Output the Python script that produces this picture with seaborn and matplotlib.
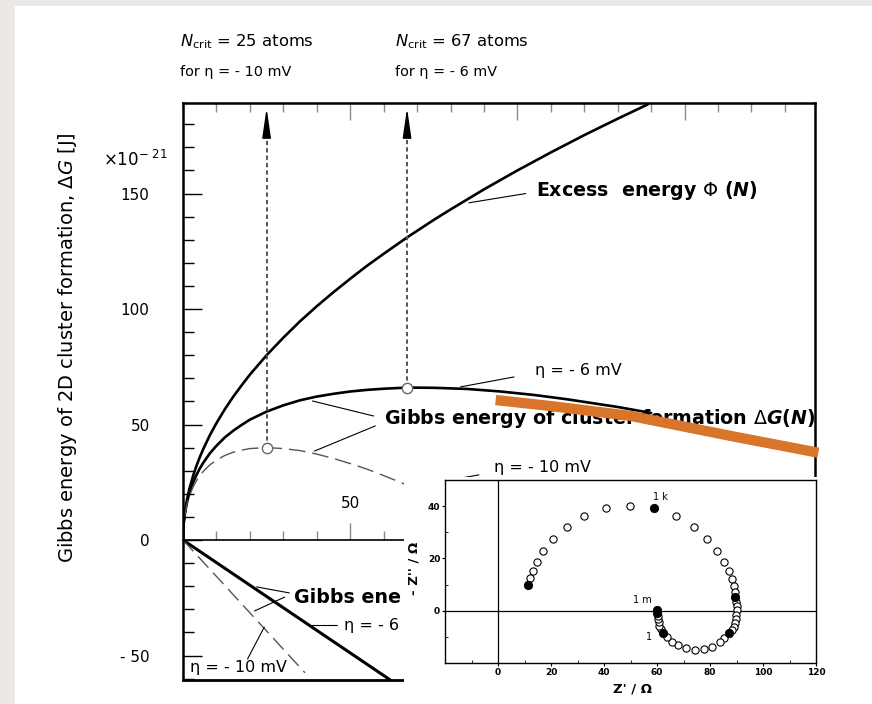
import matplotlib
matplotlib.use("Agg")
import matplotlib.pyplot as plt
from matplotlib.ticker import MultipleLocator, FixedLocator
from matplotlib.patches import Rectangle
from matplotlib.transforms import Bbox, TransformedBbox
import seaborn as sns

sns.set_style("white")
plt.rcParams["font.family"] = ["DejaVu Sans"]
plt.rcParams["mathtext.fontset"] = "dejavusans"
plt.rcParams["text.color"] = "black"
plt.rcParams["axes.labelcolor"] = "black"
plt.rcParams["xtick.color"] = "black"
plt.rcParams["ytick.color"] = "black"

# ---- Gibbs energy of 2D cluster formation (units of 1e-21 J) ----
# excess energy Phi(N)
n_phi = [0, 0.1, 0.25, 0.5, 1, 1.5, 2, 3, 4, 5, 6, 8, 10, 12.5, 15, 17.5, 20, 25, 30, 35,
         40, 45, 50, 55, 60, 67, 75, 80, 90, 100, 110, 120, 130, 139]
phi = [0, 5.1, 8, 11.3, 16, 19.6, 22.6, 27.7, 32, 35.8, 39.2, 45.3, 50.6, 56.6, 62, 66.9, 71.6,
       80, 87.6, 94.7, 101.2, 107.3, 113.1, 118.7, 123.9, 131, 138.6, 143.1, 151.8, 160,
       167.8, 175.3, 182.4, 188.6]

# Delta G(N) for eta = -6 mV
n_dg6 = [0, 0.1, 0.25, 0.5, 1, 1.5, 2, 3, 4, 5, 6, 8, 10, 12.5, 15, 17.5, 20, 25, 30, 35,
         40, 45, 50, 55, 60, 67, 75, 85, 95, 105, 115, 120, 130, 140]
dg6 = [0, 5.0, 7.8, 10.8, 15.0, 18.1, 20.7, 24.8, 28.1, 30.9, 33.3, 37.5, 40.8, 44.4, 47.3,
       49.8, 52.1, 55.6, 58.3, 60.5, 62.1, 63.3, 64.3, 65.0, 65.5, 66.0, 65.9, 65.4, 64.3,
       62.8, 60.9, 59.8, 57.6, 55.0]

# Delta G(N) for eta = -10 mV
n_dg10 = [0, 0.1, 0.25, 0.5, 1, 1.5, 2, 3, 4, 5, 6, 8, 10, 12.5, 15, 17.5, 20, 25, 30, 35,
          40, 45, 50, 55, 60, 65, 70, 75, 80]
dg10 = [0, 4.9, 7.6, 10.5, 14.4, 17.2, 19.4, 22.9, 25.6, 27.8, 29.6, 32.5, 34.6, 36.6, 38.0,
        38.9, 39.6, 40.0, 39.6, 38.7, 37.2, 35.3, 33.1, 30.7, 27.9, 25.0, 21.9, 18.6, 15.1]

# volume (supersaturation) term -N e |eta|
n_lin6 = [0, 62]
lin6 = [0, -60.6]
n_lin10 = [0, 36.5]
lin10 = [0, -57.5]

# critical cluster sizes and barrier heights
n_crit = [25, 67]
dg_crit = [40, 66]

# highlighted stretch of the eta = -6 mV barrier curve
hl_n = [93.5, 110, 134, 164, 190]
hl_dg = [60.6, 58.0, 53.7, 45.0, 37.8]

y_tick_vals = [-50, 0, 50, 100, 150]
y_tick_labels = ["- 50", "0", "50", "100", "150"]
x_tick_vals = [50, 100, 150]
x_tick_labels = ["50", "100", "150"]

# ---- impedance spectrum (Nyquist) ----
z_real = [11.4, 12.1, 13.1, 14.8, 17.1, 20.6, 25.9, 32.6, 40.7, 49.7, 58.8, 67.2, 74.0, 79.0,
          82.8, 85.4, 87.1, 88.2, 88.9, 89.3, 89.6, 89.9, 90.0, 90.0, 89.9, 89.8, 89.5, 89.0,
          88.3, 87.1, 85.4, 83.6, 80.7, 77.7, 74.3, 71.0, 68.0, 65.7, 63.7, 62.4, 61.4, 60.9,
          60.6, 60.3, 60.2, 60.1, 60.0]
z_imag = [9.7, 12.4, 15.3, 18.8, 23.0, 27.3, 32.1, 36.2, 39.1, 40.0, 39.1, 36.4, 32.2, 27.6,
          22.9, 18.8, 15.3, 12.2, 9.3, 7.3, 5.3, 3.3, 1.7, 0.1, -1.5, -3.2, -4.7, -6.1,
          -7.4, -8.6, -10.5, -12.1, -13.7, -14.7, -15.1, -14.4, -13.3, -11.8, -10.0, -8.6, -7.0, -5.8,
          -4.5, -3.2, -2.2, -1.0, 0.1]
decade = [1, 0, 0, 0, 0, 0, 0, 0, 0, 0, 1, 0, 0, 0,
          0, 0, 0, 0, 0, 0, 1, 0, 0, 0, 0, 0, 0, 0,
          0, 1, 0, 0, 0, 0, 0, 0, 0, 0, 0, 1, 0, 0,
          0, 0, 0, 1, 1]
z_xticks = [0, 20, 40, 60, 80, 100, 120]
z_yticks = [0, 20, 40]

W, H = 872, 704


def fx(px):
    return px / W


def fy(py):
    return 1 - py / H


fig = plt.figure(figsize=(W / 100, H / 100), dpi=100, facecolor="#ebe8e5")
fig.patches.append(Rectangle((fx(15), 0), 1 - fx(15), fy(6), transform=fig.transFigure,
                             facecolor="white", edgecolor="none", zorder=-1))

ax = fig.add_axes([fx(183), fy(680), fx(815) - fx(183), fy(103) - fy(680)])
ax.set_facecolor("white")
ax.set_xlim(0, 189)
ax.set_ylim(-60.6, 189.2)

# curves
sns.lineplot(x=n_phi, y=phi, ax=ax, color="black", lw=1.9)
sns.lineplot(x=n_dg6, y=dg6, ax=ax, color="black", lw=1.9)
sns.lineplot(x=n_dg10, y=dg10, ax=ax, color="#555555", lw=1.0, linestyle=(0, (12, 5)))
sns.lineplot(x=n_lin6, y=lin6, ax=ax, color="black", lw=2.2)
sns.lineplot(x=n_lin10, y=lin10, ax=ax, color="#555555", lw=1.0, linestyle=(0, (11, 5)))

# critical sizes: dashed arrows up to the top frame
for n, g in zip(n_crit, dg_crit):
    ax.plot([n, n], [g, 177], color="#555555", lw=1.4, linestyle=(0, (2.2, 1.6)), zorder=3)
    ax.annotate("", xy=(n, 187), xytext=(n, 176),
                arrowprops=dict(arrowstyle="-|>,head_length=1.3,head_width=0.19",
                                mutation_scale=14, color="black", lw=1, shrinkA=0, shrinkB=0))
sns.scatterplot(x=n_crit, y=dg_crit, ax=ax, s=55, facecolor="white", edgecolor="#666666",
                linewidth=1.0, zorder=6)

# highlighted section
sns.lineplot(x=hl_n, y=hl_dg, ax=ax, color="#d9742b", lw=7.4, solid_capstyle="butt")
ax.lines[-1].set_clip_on(False)
ax.lines[-1].set_zorder(6)

# annotations with leader lines
leaders = [
    ((85.5, 146), (102.5, 150)),
    ((83, 66.3), (99, 70.6)),
    ((38.7, 60.2), (57, 53.7)),
    ((39.3, 38.5), (57.5, 49.4)),
    ((76, 25), (88.5, 28.2)),
    ((22, -20.3), (31.8, -22.9)),
    ((21.4, -30.7), (30.4, -24.7)),
    ((38.7, -36.8), (46, -36.8)),
    ((19.3, -51.5), (24.3, -37.7)),
]
for (x0, y0), (x1, y1) in leaders:
    ax.plot([x0, x1], [y0, y1], color="black", lw=0.8, zorder=4)

bold = dict(fontsize=13.7, fontweight="bold", ha="left", va="center")
reg = dict(fontsize=11.5, ha="left", va="center")
ax.text(105.7, 151.5, r"Excess  energy $\Phi$ ($\mathbfit{N}$)", **bold)
ax.text(60.1, 52.8, r"Gibbs energy of cluster formation $\Delta\mathbfit{G}$($\mathbfit{N}$)", **bold)
ax.text(105.4, 73.6, "η = - 6 mV", **reg)
ax.text(92.9, 31.6, "η = - 10 mV", **reg)
ax.text(2.1, -55, "η = - 10 mV", **reg)

# labels in the lower half run up to the impedance panel edge
panel_left = fx(404)
t1 = ax.text(33.3, -24.7, "Gibbs ene", **bold)
t2 = ax.text(48.2, -36.8, "η = - 6", **reg)
for t in (t1, t2):
    t.set_clip_box(TransformedBbox(Bbox.from_extents(0, 0, panel_left, 1), fig.transFigure))
    t.set_clip_on(True)

# axes styling
for side in ["left", "top", "right"]:
    ax.spines[side].set_linewidth(1.8)
    ax.spines[side].set_color("black")
ax.spines["bottom"].set_position(("data", 0))
ax.spines["bottom"].set_linewidth(1.2)
ax.spines["bottom"].set_color("black")
ax.plot([0, 1], [0, 0], transform=ax.transAxes, color="black", lw=2.0, clip_on=False)

ax.yaxis.set_major_locator(FixedLocator(y_tick_vals))
ax.set_yticklabels(y_tick_labels)
ax.yaxis.set_minor_locator(MultipleLocator(10))
ax.xaxis.set_major_locator(FixedLocator(x_tick_vals))
ax.set_xticklabels(x_tick_labels)
ax.xaxis.set_minor_locator(MultipleLocator(10))

ax.tick_params(axis="y", which="both", left=True, right=False, direction="in", color="black")
ax.tick_params(axis="y", which="major", length=14, width=1.0, labelsize=11, pad=24)
ax.tick_params(axis="y", which="minor", length=8, width=1.0)
ax.tick_params(axis="x", which="both", bottom=True, top=True, direction="in", color="#8a8a8a",
               labeltop=False)
ax.tick_params(axis="x", which="major", length=12, width=1.0, labelsize=11, pad=-32)
ax.tick_params(axis="x", which="minor", length=6.5, width=1.0)

ax.set_ylabel("Gibbs energy of 2D cluster formation, Δ$G$ [J]", fontsize=14)
ax.yaxis.set_label_coords((79 - 183) / 632, (680 - 348) / 577)
ax.text((135 - 183) / 632, (680 - 160) / 577, r"$\times\mathregular{10^{-\ 21}}$",
        transform=ax.transAxes, fontsize=12, ha="center", va="center")

# header text
fig.text(fx(180), fy(42), r"$N_{\mathregular{crit}}$ = 25 atoms", fontsize=11.8, ha="left", va="center")
fig.text(fx(180), fy(72), "for η = - 10 mV", fontsize=10.4, ha="left", va="center")
fig.text(fx(395), fy(42), r"$N_{\mathregular{crit}}$ = 67 atoms", fontsize=11.8, ha="left", va="center")
fig.text(fx(395), fy(72), "for η = - 6 mV", fontsize=10.4, ha="left", va="center")

# white panel carrying the impedance plot
fig.patches.append(Rectangle((panel_left, 0), 1 - panel_left, fy(477), transform=fig.transFigure,
                             facecolor="white", edgecolor="none", zorder=2))

ax2 = fig.add_axes([fx(445), fy(663), fx(816) - fx(445), fy(480) - fy(663)])
ax2.set_zorder(3)
ax2.set_facecolor("white")
ax2.set_xlim(-20, 120)
ax2.set_ylim(-20, 50)
ax2.axhline(0, color="black", lw=0.9, zorder=1)
ax2.axvline(0, color="black", lw=0.9, zorder=1)

open_x = [x for x, d in zip(z_real, decade) if not d]
open_y = [y for y, d in zip(z_imag, decade) if not d]
dec_x = [x for x, d in zip(z_real, decade) if d]
dec_y = [y for y, d in zip(z_imag, decade) if d]
sns.scatterplot(x=open_x, y=open_y, ax=ax2, s=27, facecolor="white", edgecolor="black",
                linewidth=0.8, zorder=3)
sns.scatterplot(x=dec_x, y=dec_y, ax=ax2, s=36, color="black", edgecolor="black",
                linewidth=0.6, zorder=4)

ax2.text(58.5, 43.6, "1 k", fontsize=7, ha="left", va="center")
ax2.text(58.0, 4.0, "1 m", fontsize=7, ha="right", va="center")
ax2.text(58.2, -10, "1", fontsize=7, ha="right", va="center")

for s in ax2.spines.values():
    s.set_linewidth(1.0)
    s.set_color("black")
ax2.xaxis.set_major_locator(FixedLocator(z_xticks))
ax2.xaxis.set_minor_locator(MultipleLocator(10))
ax2.yaxis.set_major_locator(FixedLocator(z_yticks))
ax2.yaxis.set_minor_locator(MultipleLocator(10))
ax2.tick_params(which="both", bottom=True, left=True, top=False, right=False)
ax2.tick_params(which="major", direction="out", length=2, width=0.8, labelsize=6.5, pad=1.5)
ax2.tick_params(which="minor", direction="in", length=2.5, width=0.6)
for lab in ax2.get_xticklabels() + ax2.get_yticklabels():
    lab.set_fontweight("bold")
ax2.set_xlabel("Z' / Ω", fontsize=9.5, fontweight="bold")
ax2.xaxis.set_label_coords((632 - 445) / 371, (663 - 683) / 183)
ax2.set_ylabel("- Z'' / Ω", fontsize=9.5, fontweight="bold")
ax2.yaxis.set_label_coords((420 - 445) / 371, (663 - 568) / 183)

fig.savefig("out.png", dpi=100, facecolor=fig.get_facecolor())
